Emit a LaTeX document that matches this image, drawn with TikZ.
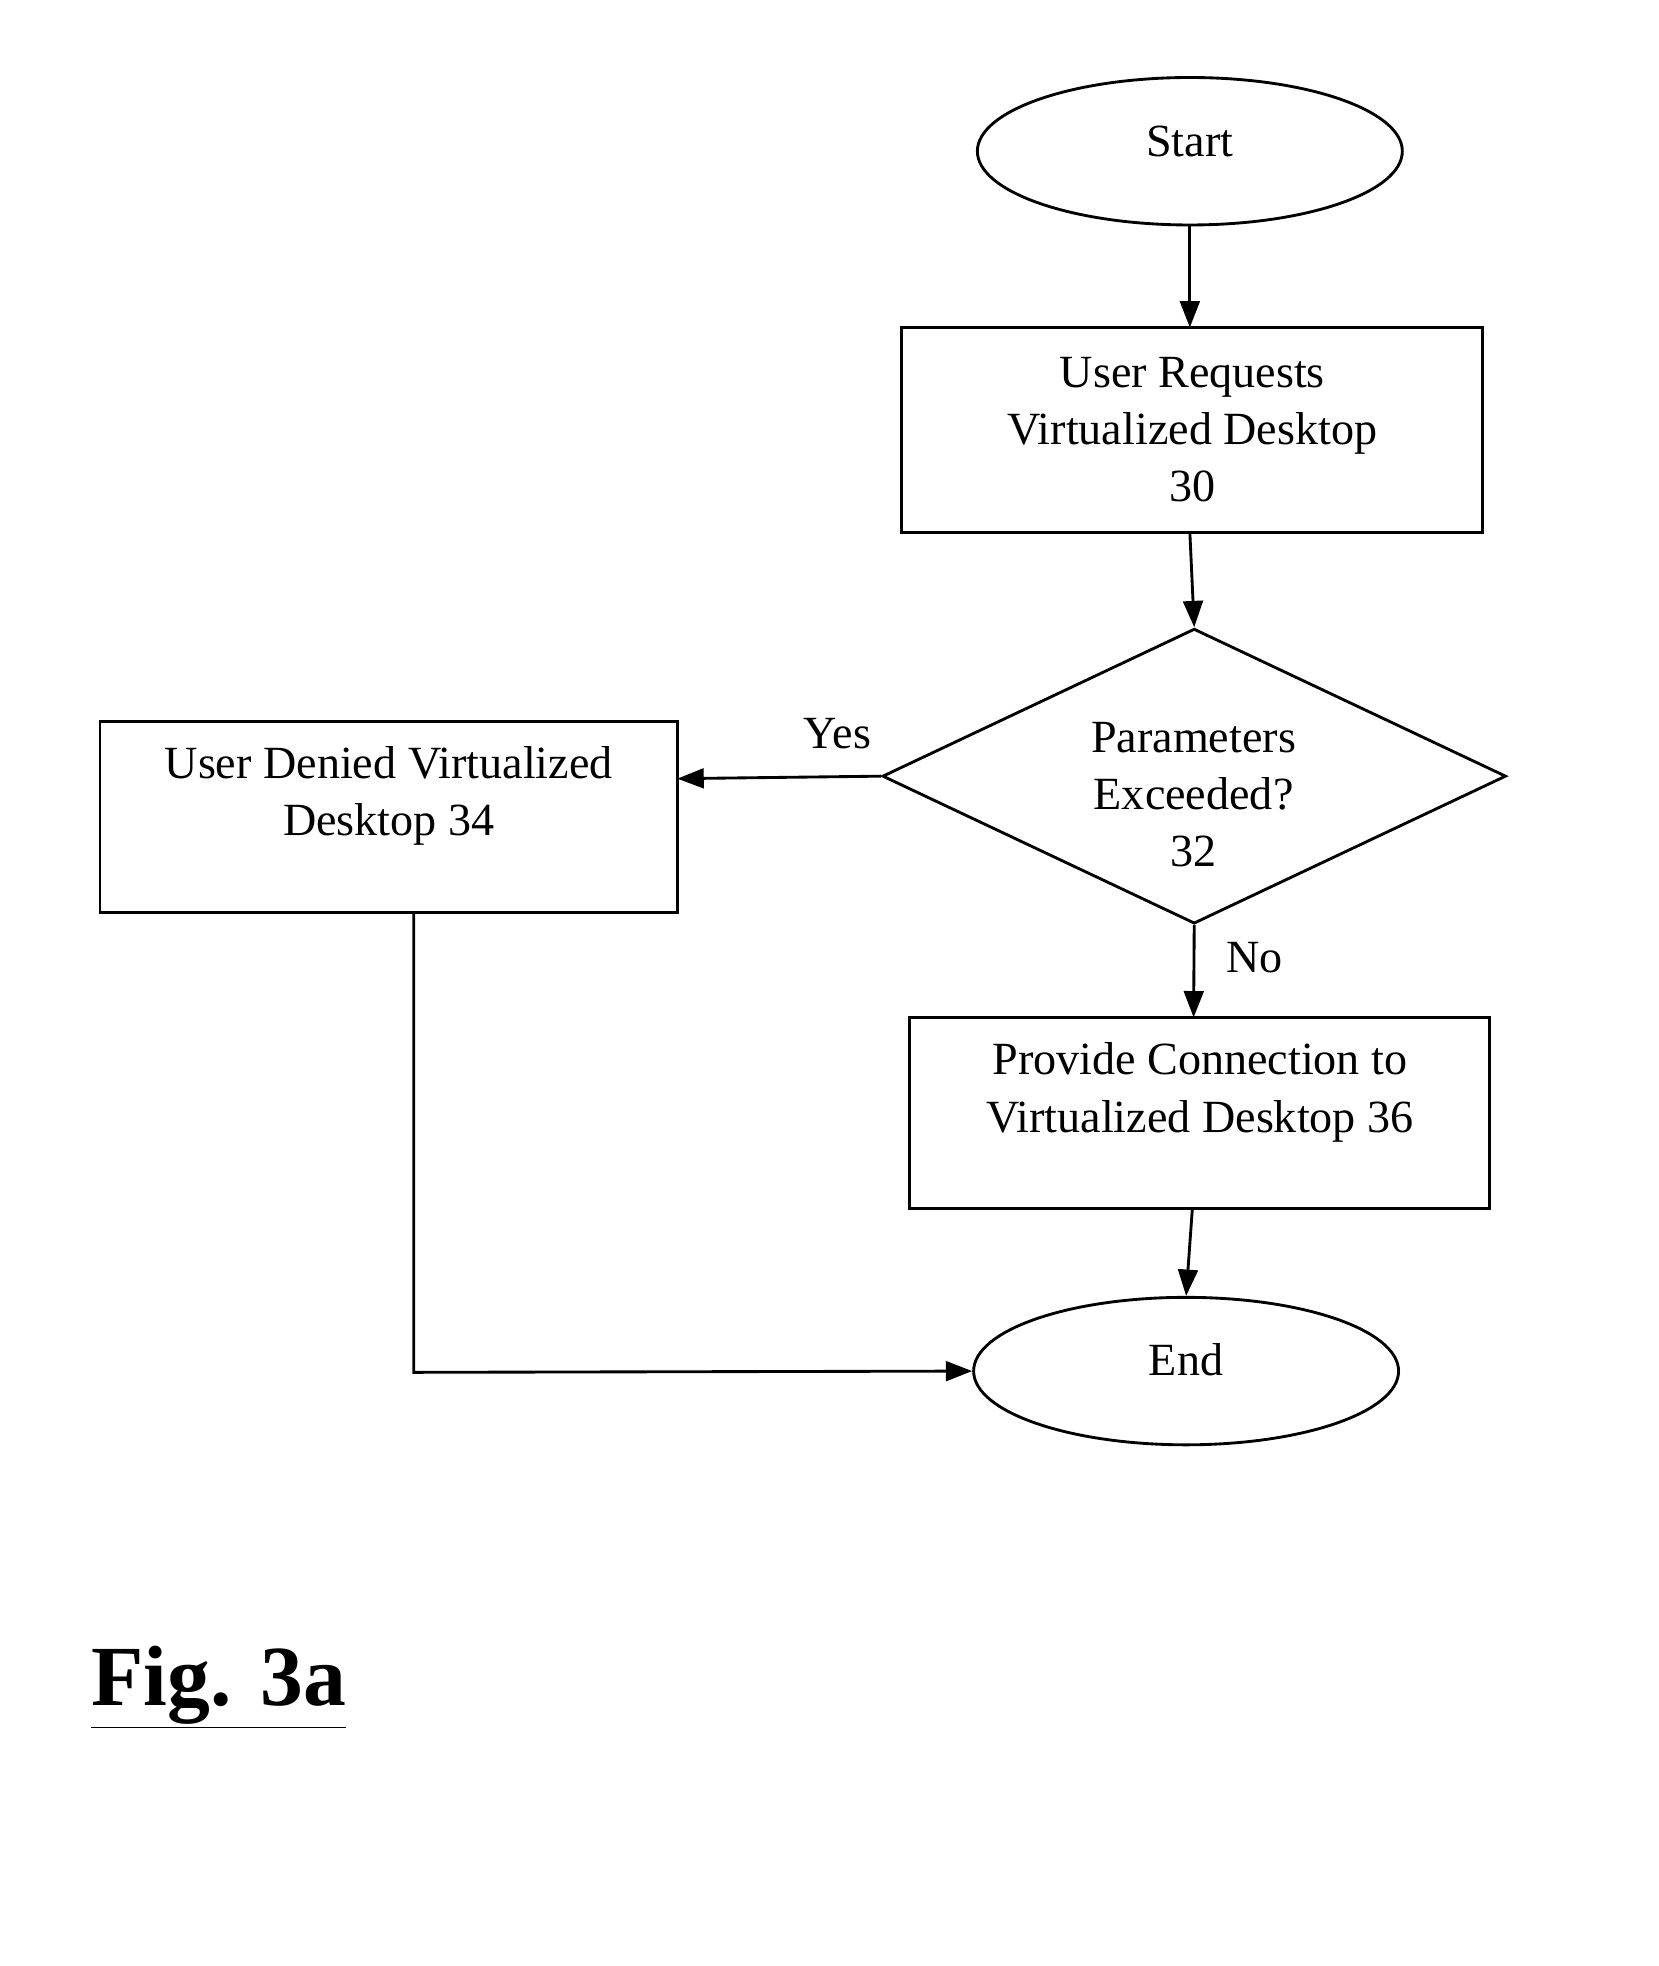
\documentclass[tikz,border=0pt]{standalone}
\usepackage{fontspec}
\setmainfont{Liberation Serif}
\usetikzlibrary{shapes.geometric,arrows.meta}
\begin{document}
\begin{tikzpicture}[x=0.02cm,y=-0.02cm,
  every node/.style={font=\fontsize{21}{26}\selectfont,align=center},
  box/.style={draw,line width=1.3pt,minimum width=465*0.02cm,minimum height=164*0.02cm,inner sep=0pt},
  oval/.style={draw,ellipse,line width=1.3pt,minimum width=340*0.02cm,minimum height=118*0.02cm,inner sep=0pt},
  arr/.style={line width=1.3pt,-{Triangle[length=12pt,width=9pt]}}]
\useasboundingbox (0,0) rectangle (1327,1573);
\node[oval] (start) at (952,121) {};
\node at (952,113) {Start};
\node[box] (b30) at (953.5,344) {};
\node at (954,344) {User Requests\\Virtualized Desktop\\30};
\node[draw,diamond,line width=1.3pt,aspect=2.11,minimum width=499*0.02cm,minimum height=236*0.02cm,inner sep=0pt] (d32) at (955.5,621) {};
\node at (955,636) {Parameters\\Exceeded?\\32};
\node[box,minimum width=462*0.02cm,minimum height=153*0.02cm] (b34) at (311,653.5) {};
\node at (311,637) {User Denied Virtualized\\Desktop 34};
\node[box,minimum width=464*0.02cm,minimum height=153*0.02cm] (b36) at (960,890.5) {};
\node at (960,874) {Provide Connection to\\Virtualized Desktop 36};
\node[oval] (end) at (949,1097) {};
\node at (949,1088) {End};
\node at (670,587) {Yes};
\node at (1004,766) {No};
\node[font=\bfseries\fontsize{39}{45}\selectfont] (fig) at (175,1350) {\underline{Fig. 3a}};
\draw[arr] (start.south) -- (952,262);
\draw[arr] (952,426) -- (d32.north);
\draw[arr] (d32.west) -- (542,623);
\draw[arr] (d32.south) -- (955,814);
\draw[arr] (954,967) -- (end.north);
\draw[arr] (331,730) -- (331,1098) -- (end.west);
\end{tikzpicture}
\end{document}
